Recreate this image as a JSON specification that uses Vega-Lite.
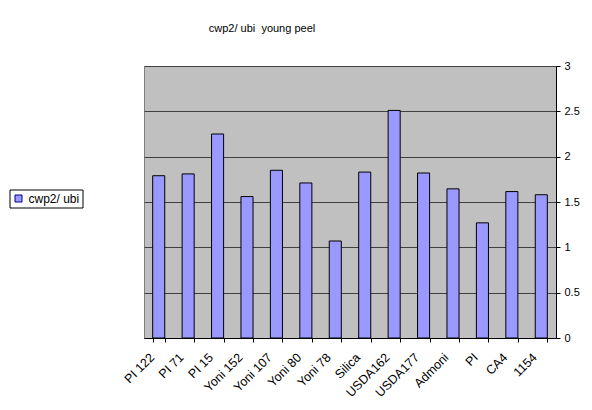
{
  "$schema": "https://vega.github.io/schema/vega-lite/v6.json",
  "autosize": {"type": "none"},
  "padding": {"left": 144, "top": 66, "right": 36, "bottom": 72},
  "width": 412,
  "height": 272,
  "background": "white",
  "title": {
    "text": "cwp2/ ubi\u00a0 young peel",
    "anchor": "middle",
    "dx": -88,
    "offset": 26,
    "font": "Liberation Sans",
    "fontSize": 11,
    "fontWeight": "normal",
    "color": "black"
  },
  "data": {
    "values": [
      {"sample": "PI 122", "value": 1.79},
      {"sample": "PI 71", "value": 1.81},
      {"sample": "PI 15", "value": 2.25},
      {"sample": "Yoni 152", "value": 1.56},
      {"sample": "Yoni 107", "value": 1.85},
      {"sample": "Yoni 80", "value": 1.71},
      {"sample": "Yoni 78", "value": 1.07},
      {"sample": "Silica", "value": 1.83},
      {"sample": "USDA162", "value": 2.51},
      {"sample": "USDA177", "value": 1.82},
      {"sample": "Admoni", "value": 1.645},
      {"sample": "PI", "value": 1.27},
      {"sample": "CA4", "value": 1.615},
      {"sample": "1154", "value": 1.58}
    ]
  },
  "mark": {"type": "bar", "stroke": "black", "strokeWidth": 1},
  "encoding": {
    "x": {
      "field": "sample",
      "type": "nominal",
      "sort": null,
      "scale": {"paddingInner": 0.59, "paddingOuter": 0.295},
      "axis": {
        "title": null,
        "labelAngle": -45,
        "labelAlign": "right",
        "labelBaseline": "middle",
        "tickBand": "extent",
        "labelFont": "Liberation Sans",
        "labelFontSize": 12.5,
        "labelColor": "black",
        "labelOffset": -7,
        "domainColor": "black",
        "tickColor": "black",
        "tickSize": 4,
        "labelPadding": 13,
        "grid": false
      }
    },
    "y": {
      "field": "value",
      "type": "quantitative",
      "scale": {"domain": [0, 3], "nice": false},
      "axis": {
        "orient": "right",
        "title": null,
        "values": [0, 0.5, 1, 1.5, 2, 2.5, 3],
        "format": "~g",
        "labelFont": "Liberation Sans",
        "labelFontSize": 11,
        "labelColor": "black",
        "domainColor": "black",
        "tickColor": "black",
        "tickSize": 4,
        "labelPadding": 4,
        "grid": true,
        "gridColor": "#404040",
        "gridOpacity": 1
      }
    },
    "color": {
      "datum": "cwp2/ ubi",
      "type": "nominal",
      "scale": {"range": ["#9999FF"]},
      "legend": {
        "title": null,
        "orient": "none",
        "legendX": -134.5,
        "legendY": 123.5,
        "symbolType": "square",
        "symbolSize": 49,
        "symbolStrokeColor": "#000080",
        "symbolStrokeWidth": 1,
        "symbolFillColor": "#9999FF",
        "labelFont": "Liberation Sans",
        "labelFontSize": 12,
        "labelColor": "black",
        "strokeColor": "black",
        "padding": 3,
        "fillColor": "white"
      }
    }
  },
  "config": {
    "view": {"fill": "#C0C0C0", "stroke": "#808080"}
  }
}
